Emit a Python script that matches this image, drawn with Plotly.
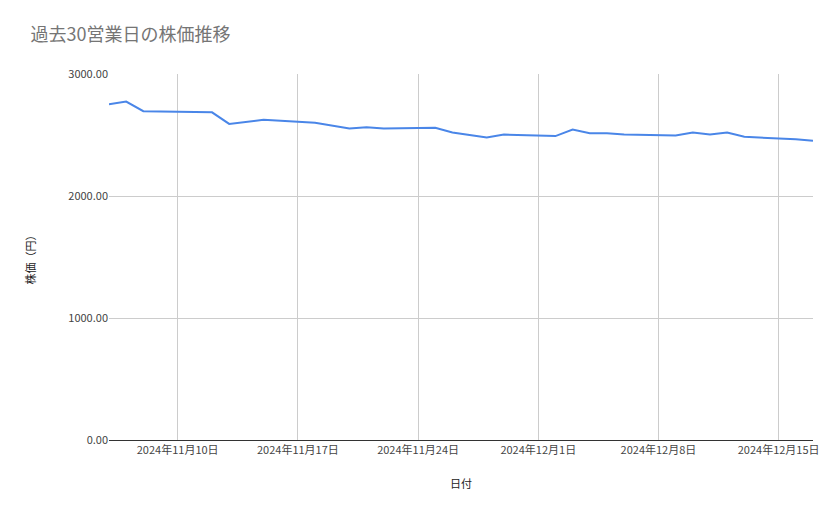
import plotly.graph_objects as go
import pandas as pd

dates = ["2024-11-06","2024-11-07","2024-11-08","2024-11-11","2024-11-12","2024-11-13","2024-11-14","2024-11-15",
         "2024-11-18","2024-11-19","2024-11-20","2024-11-21","2024-11-22","2024-11-25","2024-11-26","2024-11-27",
         "2024-11-28","2024-11-29","2024-12-02","2024-12-03","2024-12-04","2024-12-05","2024-12-06","2024-12-09",
         "2024-12-10","2024-12-11","2024-12-12","2024-12-13","2024-12-16","2024-12-17"]
prices = [2752,2774,2695,2692,2686,2591,2608,2624,2600,2575,2553,2564,2553,2559,2520,2500,
          2479,2504,2491,2545,2515,2515,2504,2496,2520,2504,2520,2485,2465,2452]
tick_dates = ["2024-11-10","2024-11-17","2024-11-24","2024-12-01","2024-12-08","2024-12-15"]
tick_labels = ["2024年11月10日","2024年11月17日","2024年11月24日","2024年12月1日","2024年12月8日","2024年12月15日"]

fig = go.Figure(go.Scatter(x=pd.to_datetime(dates), y=prices, mode="lines",
                           line=dict(color="#4a86e8", width=2)))
font = "Noto Sans CJK JP"
fig.update_layout(
    width=831, height=511, plot_bgcolor="white", paper_bgcolor="white",
    margin=dict(l=101, r=26, t=66, b=79),
    title=dict(text="過去30営業日の株価推移", x=0.027, y=0.96, xanchor="left",
               font=dict(family=font, size=18, color="#757575")),
    font=dict(family=font, size=11, color="#444"),
    showlegend=False,
)
fig.update_xaxes(range=[pd.Timestamp("2024-11-06"), pd.Timestamp("2024-12-17")],
                 tickvals=pd.to_datetime(tick_dates), ticktext=tick_labels,
                 showgrid=True, gridcolor="#cccccc", showline=True, linecolor="#333", linewidth=1,
                 title=dict(text="日付", font=dict(size=11, color="#222"), standoff=24), ticks="")
fig.update_yaxes(range=[0, 3000], tickvals=[0,1000,2000,3000], tickformat=".2f",
                 showgrid=True, gridcolor="#cccccc", zeroline=False,
                 title=dict(text="株価（円）", font=dict(size=11, color="#222"), standoff=30))
fig.write_html("out.html")
